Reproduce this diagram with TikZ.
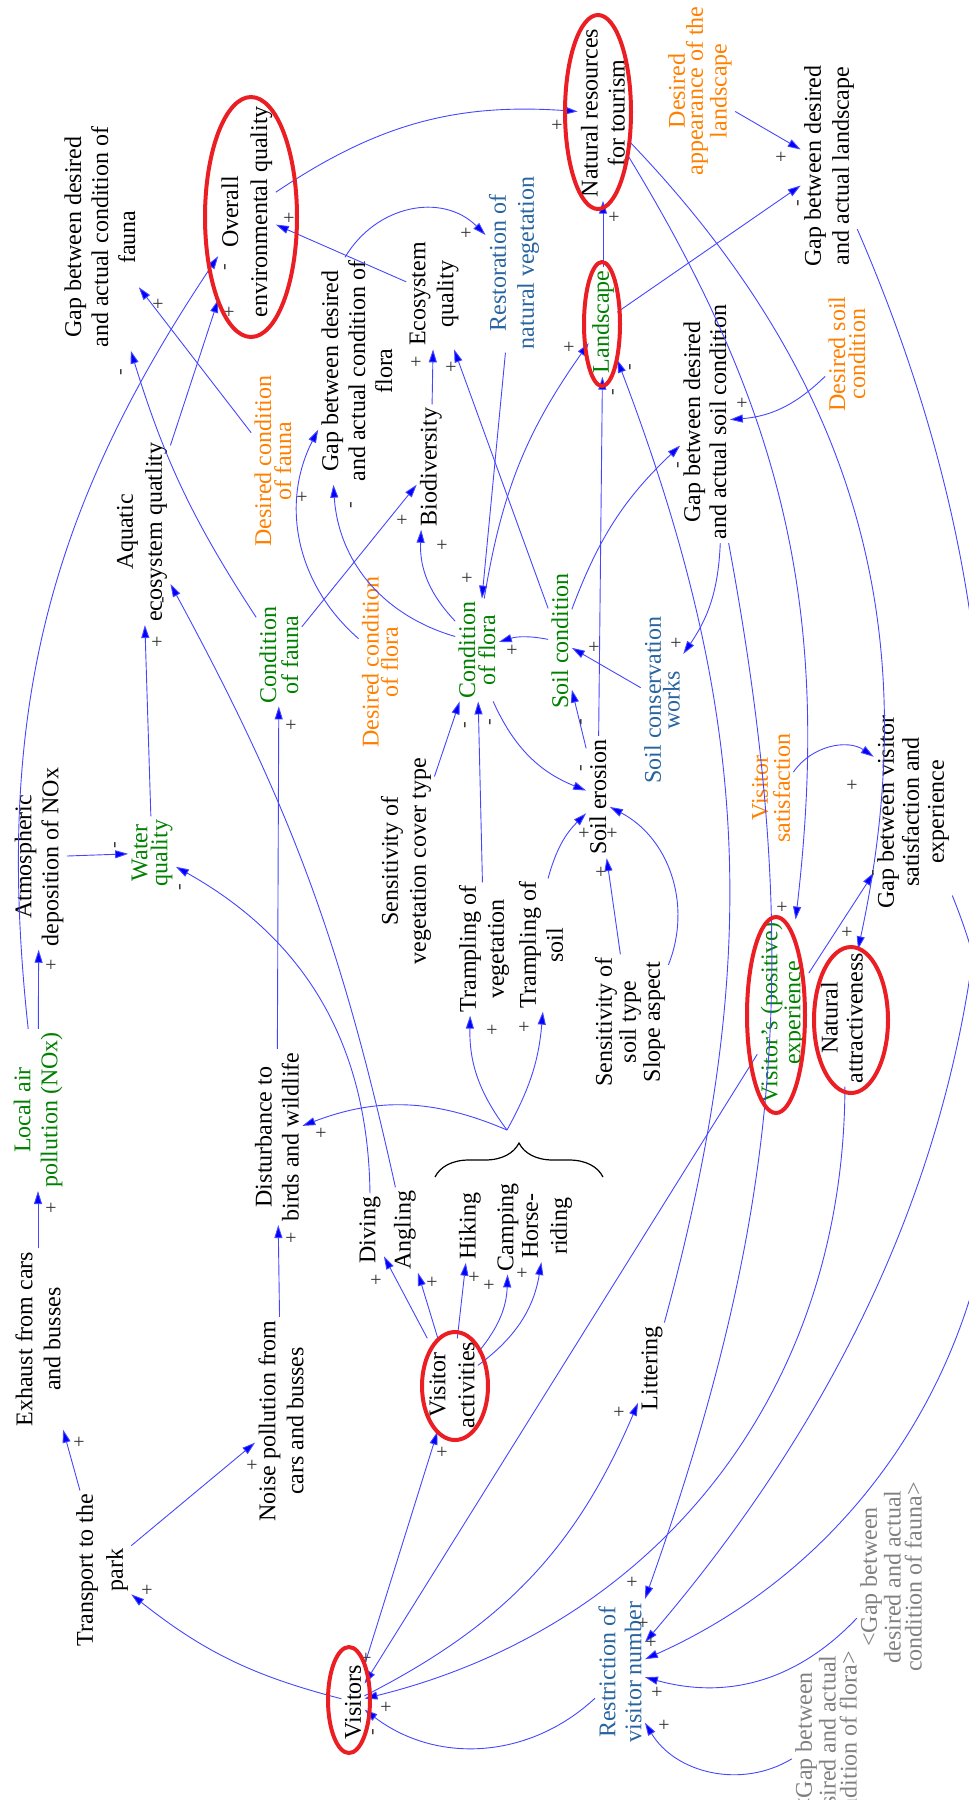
\documentclass[tikz,border=0pt]{standalone}
\usepackage{fontspec}
\setmainfont{Liberation Serif}
\usetikzlibrary{arrows.meta,decorations.pathreplacing}
\definecolor{vgreen}{RGB}{0,128,0}
\definecolor{vorange}{RGB}{255,128,0}
\definecolor{vblue}{RGB}{40,100,160}
\definecolor{vgray}{RGB}{128,128,128}
\definecolor{linkblue}{RGB}{70,70,255}
\definecolor{tipblue}{RGB}{0,0,255}
\definecolor{ringred}{RGB}{235,30,36}
\definecolor{signgray}{RGB}{50,50,50}
\begin{document}
% one coordinate unit = one pixel of a 969 x 1800 sheet, y growing downwards
\begin{tikzpicture}[x=0.5pt,y=-0.5pt,
  var/.style={rotate=90,align=center,inner sep=1.5pt,font=\fontsize{12}{13.5}\selectfont},
  lsp/.style={font=\fontsize{12}{#1}\selectfont},
  causal/.style={draw=linkblue,line width=0.45pt,-{Triangle[length=6.5pt,width=4pt,fill=tipblue]}},
  sgn/.style={rotate=90,inner sep=0pt,font=\fontsize{10}{10}\selectfont,text=signgray},
  ring/.style={draw=ringred,line width=2pt},
  bracket/.style={draw=black,line width=0.6pt,decorate,decoration={brace,amplitude=17pt}}
]
\useasboundingbox (0,0) rectangle (969,1800);
\clip (0,0) rectangle (969,1800);

% ---------- variables ----------
\node[var] (gapfauna) at (100,237) {Gap between desired\\and actual condition of\\fauna};
\node[var,lsp=14.5] (overall) at (247,212) {Overall\\environmental quality};
\node[var] (natres) at (603,113) {Natural resources\\for tourism};
\node[var,text=vgreen] (landscape) at (603,322) {Landscape};
\node[var,lsp=14] (eco) at (434,294) {Ecosystem\\quality};
\node[var,lsp=14,text=vblue] (restor) at (514,263) {Restoration of\\natural vegetation};
\node[var,lsp=14] (gapland) at (829,166) {Gap between desired\\and actual landscape};
\node[var,lsp=9,text=vorange] (desland) at (700,91) {Desired\\appearance of the\\landscape};
\node[var,lsp=13] (gapsoil) at (705,422) {Gap between desired\\and actual soil condition};
\node[var,lsp=10,text=vorange] (dessoil) at (847,354) {Desired soil\\condition};
\node[var,lsp=14.5] (aquatic) at (142,532) {Aquatic\\ecosystem quatlity};
\node[var,lsp=10,text=vorange] (desfauna) at (273,461) {Desired condition\\of fauna};
\node[var,lsp=11,text=vgreen] (condfauna) at (279,655) {Condition\\of fauna};
\node[var] (biodiv) at (431,467) {Biodiversity};
\node[var] (gapflora) at (357,371) {Gap between desired\\and actual condition of\\flora};
\node[var,lsp=7.5,text=vorange] (desflora) at (380,662) {Desired condition\\of flora};
\node[var,lsp=10,text=vgreen] (condflora) at (477,650) {Condition\\of flora};
\node[var,text=vgreen] (soilcond) at (560,641) {Soil condition};
\node[var] (erosion) at (598,797) {Soil erosion};
\node[var,lsp=14] (sensveg) at (406,861) {Sensitivity of\\vegetation cover type};
\node[var,lsp=14] (trampveg) at (484,949) {Trampling of\\vegetation};
\node[var] (trampsoil) at (541,945) {Trampling of\\soil};
\node[var,lsp=12] (senssoil) at (630,1022) {Sensitivity of\\soil type\\Slope aspect};
\node[var,lsp=7.5,text=vblue] (soilcons) at (662,700) {Soil conservation\\works};
\node[var,lsp=11,text=vorange] (vsat) at (771,788) {Visitor\\satisfaction};
\node[var,lsp=12.5] (gapvis) at (913,812) {Gap between visitor\\satisfaction and\\experience};
\node[var,lsp=10,text=vgreen] (vexp) at (783,1013) {Visitor's (positive)\\experience};
\node[var,lsp=12.5] (natattr) at (842,1018) {Natural\\attractiveness};
\node[var] (atmos) at (39,857) {Atmospheric\\deposition of NOx};
\node[var,lsp=10,text=vgreen] (water) at (152,853) {Water\\quality};
\node[var,text=vgreen] (localair) at (38,1110) {Local air\\pollution (NOx)};
\node[var,lsp=14] (exhaust) at (38,1339) {Exhaust from cars\\and busses};
\node[var] (disturb) at (277,1137) {Disturbance to\\birds and wildlife};
\node[var,lsp=15] (transport) at (102,1570) {Transport to the\\park};
\node[var,lsp=14] (noise) at (281,1421) {Noise pollution from\\cars and busses};
\node[var] (diving) at (370,1230) {Diving};
\node[var] (angling) at (405,1230) {Angling};
\node[var] (hiking) at (470,1226) {Hiking};
\node[var] (camping) at (508,1227) {Camping};
\node[var,lsp=14.5] (horse) at (547,1226) {Horse-\\riding};
\node[var,lsp=14.5] (activities) at (452,1385) {Visitor\\activities};
\node[var] (littering) at (652,1368) {Littering};
\node[var] (visitors) at (353,1702) {Visitors};
\node[var,lsp=13,text=vblue] (restrict) at (620,1672) {Restriction of\\visitor number};
\node[var,lsp=10.5,text=vgray] (shfauna) at (891,1577) {<Gap between\\desired and actual\\condition of fauna>};
\node[var,lsp=10.5,text=vgray] (shflora) at (826,1742) {<Gap between\\desired and actual\\condition of flora>};

% brace grouping the activities
\draw[bracket] (435,1177) -- (603,1177);
\coordinate (bt) at (507,1130);

% ---------- causal links ----------
\draw[causal] (overall) to[bend left=19] (natres);
\draw[causal] (eco) -- (overall);
\draw[causal] (biodiv) -- (eco);
\draw[causal] (soilcond) -- (eco);
\draw[causal] (restor) -- (condflora);
\draw[causal] ([xshift=-6pt]gapflora.east) .. controls (376,205) and (442,192) .. (restor);
\draw[causal] (landscape) -- (natres);
\draw[causal] (landscape) -- (gapland);
\draw[causal] (desland) -- (gapland);
\draw[causal] (condflora) to[bend left=13] (landscape);
\draw[causal] (erosion) -- (landscape);
\draw[causal] (littering) to[bend right=18] (landscape);
\draw[causal] (soilcond) to[bend left=13] (gapsoil);
\draw[causal] (gapsoil) to[bend left=16] (soilcons);
\draw[causal] (dessoil) to[bend left=20] (gapsoil);
\draw[causal] (soilcons) -- (soilcond);
\draw[causal] (soilcond) to[bend right=14] (condflora);
\draw[causal] (erosion) -- (soilcond);
\draw[causal] (condflora) to[bend right=22] (erosion);
\draw[causal] (trampsoil) to[bend left=15] (erosion);
\draw[causal] (senssoil) -- (erosion);
\draw[causal] (senssoil) to[bend right=42] (erosion);
\draw[causal] (trampveg) -- (condflora);
\draw[causal] (sensveg) -- (condflora);
\draw[causal] (condflora) to[bend left=35] (gapflora);
\draw[causal] (desflora) to[bend left=38] (gapflora);
\draw[causal] (condflora) to[bend left=23] (biodiv);
\draw[causal] (condfauna) -- (biodiv);
\draw[causal] (condfauna) to[bend left=8] (gapfauna);
\draw[causal] (desfauna) -- (gapfauna);
\draw[causal] (aquatic) -- (overall);
\draw[causal] (localair) to[bend left=20] (overall);
\draw[causal] (water) -- (aquatic);
\draw[causal] (atmos) -- (water);
\draw[causal] (diving) to[bend right=30] (water);
\draw[causal] (angling) to[bend right=8] (aquatic);
\draw[causal] (disturb) -- (condfauna);
\draw[causal] (noise) -- (disturb);
\draw[causal] (bt) to[bend right=22] (disturb);
\draw[causal] (bt) to[bend left=19] (trampveg);
\draw[causal] (bt) to[bend right=12] (trampsoil);
\draw[causal] (activities) -- (diving);
\draw[causal] (activities) -- (angling);
\draw[causal] (activities) -- (hiking);
\draw[causal] (activities) to[bend right=19] (camping);
\draw[causal] (activities) to[bend right=22] (horse);
\draw[causal] (visitors) -- (activities);
\draw[causal] (vexp) -- (visitors);
\draw[causal] (natattr) to[bend left=38] (visitors);
\draw[causal] (restrict) to[bend left=40] (visitors);
\draw[causal] (visitors) to[bend right=20] (littering);
\draw[causal] (visitors) to[bend left=12] (transport);
\draw[causal] (transport) -- (noise);
\draw[causal] (transport) -- (exhaust);
\draw[causal] (exhaust) -- (localair);
\draw[causal] (localair) -- (atmos);
\draw[causal] (natres) to[bend left=19] (vexp);
\draw[causal] (natres) to[bend left=28] (natattr);
\draw[causal] (vsat) to[bend left=45] (gapvis);
\draw[causal] (vexp) -- (gapvis);
\draw[causal] (gapsoil) to[bend left=15] (restrict);
\draw[causal] (gapland) to[bend left=32] (restrict);
\draw[causal] (gapvis) to[bend left=44] (restrict);
\draw[causal] (shfauna) to[bend left=31] (restrict);
\draw[causal] (shflora) to[bend left=45] (restrict);

% ---------- link polarities ----------
\foreach \x/\y [count=\i] in {230/312,290/218,159/304,558/125,615/217,417/362,452/367,467/233,
  303/497,403/520,443/545,570/347,782/157,743/403,677/643,595/647,468/578,513/650,585/833,
  613/833,602/872,158/642,292/725,52/965,52/1208,292/1238,322/1133,493/1030,525/1027,
  377/1280,433/1282,475/1277,490/1285,523/1273,80/1442,148/1590,253/1465,853/785,783/907,
  848/932,443/1452,367/1658,387/1707,620/1412,633/1582,644/1623,652/1642,658/1692,665/1725}
  \node[sgn] (plus\i) at (\x,\y) {+};
\foreach \x/\y [count=\i] in {227/267,123/372,353/505,615/392,632/367,800/203,680/465,583/722,
  467/725,492/722,583/768,117/845,182/887,165/600,875/873,375/1732}
  \node[sgn] (minus\i) at (\x,\y) {-};

% ---------- highlight rings ----------
\draw[ring] (251,217) ellipse [x radius=46,y radius=120];
\draw[ring] (598,112) ellipse [x radius=33,y radius=97];
\draw[ring] (602,324) ellipse [x radius=18,y radius=62];
\draw[ring] (776,1015) ellipse [x radius=29,y radius=98];
\draw[ring] (851,1020) ellipse [x radius=37,y radius=73];
\draw[ring] (455,1386) ellipse [x radius=33,y radius=54];
\draw[ring] (349,1700) ellipse [x radius=21,y radius=53];
\end{tikzpicture}
\end{document}
